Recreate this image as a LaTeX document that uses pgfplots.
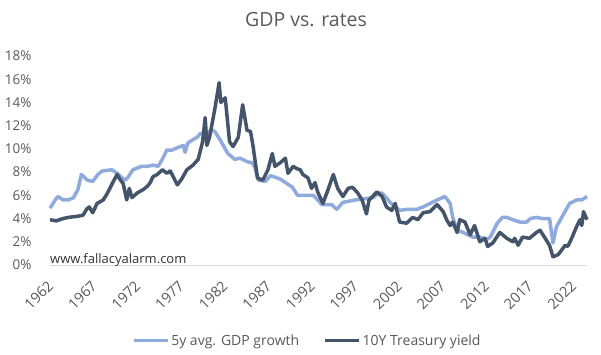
\documentclass[border=0pt]{standalone}
\usepackage{pgfplots}
\pgfplotsset{compat=1.18}
\usepackage{fontspec}
\setmainfont{Open Sans}
\definecolor{gdpc}{HTML}{8FAADC}
\definecolor{tsyc}{HTML}{44546A}
\definecolor{txt}{HTML}{595959}
\begin{document}
\begin{tikzpicture}
\useasboundingbox (-50pt,-90pt) rectangle (551pt,265pt);
\begin{axis}[
  scale only axis, width=537pt, height=209pt,
  xmin=1962, xmax=2023.6, ymin=0, ymax=18,
  axis x line*=bottom, axis y line*=left,
  y axis line style={draw=none},
  x axis line style={draw=black!15, line width=0.8pt},
  tick style={draw=none},
  xtick={1962,1967,...,2022},
  ytick={0,2,...,18},
  xticklabel style={yshift=-16pt, xshift=3pt, rotate=45, anchor=east, font=\fontsize{14.5}{16}\selectfont, text=txt},
  yticklabel style={font=\fontsize{13.5}{15}\selectfont, text=txt, xshift=-15pt},
  yticklabel={\pgfmathprintnumber{\tick}\%},
  xticklabel={\pgfmathprintnumber[int detect, 1000 sep={}]{\tick}},
  /pgf/number format/assume math mode=true,
  legend columns=2,
  legend style={draw=none, at={(axis cs:1991.5,-6.5)}, anchor=center, font=\fontsize{14}{16}\selectfont, text=txt,
    /tikz/every even column/.append style={column sep=22pt}},
  legend image code/.code={\draw[#1, line width=3.5pt] (0pt,0pt) -- (34pt,0pt);},
  clip=false,
]
\addplot[gdpc, line width=3.5pt, line join=round] coordinates {
(1962.0,4.9)(1962.6,5.6)(1962.9,5.9)(1963.5,5.6)(1964.1,5.6)(1964.7,5.8)(1965.2,6.5)(1965.6,7.8)
(1966.3,7.3)(1966.9,7.2)(1967.5,7.8)(1968.0,8.1)(1969.1,8.2)(1969.7,7.9)(1970.6,7.3)(1970.9,7.5)
(1971.5,8.2)(1972.5,8.5)(1973.2,8.5)(1973.8,8.6)(1974.4,8.5)(1974.8,9.0)(1975.4,9.9)(1976.0,9.9)
(1976.6,10.1)(1977.3,10.3)(1977.5,9.7)(1977.8,10.5)(1978.4,10.8)(1978.9,11.0)(1979.2,11.3)(1980.0,11.4)
(1980.6,11.6)(1980.9,11.5)(1981.5,10.8)(1982.4,9.6)(1983.2,9.1)(1983.8,9.2)(1984.6,8.9)(1985.2,8.8)
(1985.5,8.4)(1985.9,7.3)(1986.7,7.2)(1987.3,7.7)(1988.4,7.4)(1989.0,7.1)(1989.8,6.7)(1990.4,6.0)
(1992.2,6.0)(1993.2,5.2)(1994.3,5.2)(1994.9,4.8)(1995.6,5.4)(1997.0,5.6)(1998.1,5.7)(1999.0,5.8)
(1999.8,6.2)(2000.1,6.2)(2000.7,5.7)(2001.0,5.4)(2002.1,4.7)(2003.0,4.8)(2004.1,4.8)(2004.8,5.0)
(2005.6,5.3)(2006.4,5.6)(2007.3,5.9)(2007.9,5.3)(2008.2,4.1)(2008.7,3.0)(2009.4,2.8)(2010.5,2.4)
(2011.3,2.4)(2012.1,2.2)(2012.5,2.4)(2013.3,3.6)(2013.9,4.1)(2014.4,4.1)(2015.1,3.9)(2015.9,3.7)
(2016.7,3.7)(2017.1,4.0)(2017.8,4.1)(2018.5,4.0)(2019.3,4.0)(2019.7,1.9)(2020.1,3.3)(2020.7,4.1)
(2021.6,5.3)(2022.4,5.6)(2023.0,5.6)(2023.6,5.9)
};
\addlegendentry{5y avg. GDP growth}
\addplot[tsyc, line width=3.5pt, line join=round] coordinates {
(1962.0,3.9)(1962.7,3.8)(1963.5,4.0)(1964.1,4.1)(1965.2,4.2)(1965.8,4.3)(1966.2,4.8)(1966.5,5.0)
(1966.9,4.5)(1967.4,5.3)(1968.1,5.6)(1968.6,6.2)(1969.2,7.1)(1969.7,7.8)(1970.0,7.4)(1970.4,7.0)
(1970.8,5.6)(1971.1,6.6)(1971.4,5.8)(1972.0,6.2)(1972.7,6.5)(1973.2,6.8)(1973.5,7.1)(1973.8,7.6)
(1974.3,7.8)(1974.9,8.2)(1975.4,7.9)(1975.8,8.1)(1976.0,7.8)(1976.6,6.9)(1977.1,7.4)(1977.7,8.2)
(1978.4,8.6)(1979.0,9.1)(1979.5,10.6)(1979.8,12.7)(1980.0,10.3)(1980.3,11.0)(1980.9,13.4)(1981.4,15.7)
(1981.6,14.0)(1982.1,14.4)(1982.6,10.6)(1983.0,10.2)(1983.6,11.0)(1984.1,13.8)(1984.6,11.6)(1985.0,11.5)
(1985.3,10.2)(1985.8,7.5)(1986.4,7.3)(1987.0,8.2)(1987.5,9.6)(1987.8,8.5)(1988.4,8.8)(1989.0,9.2)
(1989.3,7.9)(1989.9,8.5)(1990.3,8.3)(1990.7,8.2)(1991.0,7.8)(1991.6,7.5)(1992.0,6.6)(1992.4,7.1)
(1992.7,6.3)(1993.3,5.3)(1993.9,6.5)(1994.5,7.8)(1995.0,6.6)(1995.6,5.9)(1996.2,6.6)(1996.7,6.7)
(1997.3,6.2)(1997.8,5.6)(1998.3,4.4)(1998.6,5.6)(1999.0,5.9)(1999.5,6.3)(2000.1,5.9)(2000.6,5.0)
(2001.2,4.7)(2001.6,5.3)(2002.1,3.7)(2002.9,3.6)(2003.6,4.1)(2004.2,3.9)(2004.8,4.5)(2005.6,4.6)
(2006.4,5.2)(2007.1,4.6)(2007.5,3.9)(2007.9,3.4)(2008.2,3.7)(2008.7,2.8)(2009.0,3.9)(2009.6,3.7)
(2010.2,2.6)(2010.7,3.4)(2011.3,2.0)(2011.9,2.3)(2012.2,1.6)(2012.8,1.9)(2013.6,2.8)(2014.4,2.3)
(2015.1,2.0)(2015.3,2.3)(2015.7,1.7)(2016.2,2.4)(2017.0,2.3)(2017.8,2.8)(2018.2,3.0)(2018.8,2.3)
(2019.3,1.7)(2019.7,0.7)(2020.3,0.9)(2020.7,1.3)(2021.1,1.7)(2021.4,1.6)(2021.9,2.4)(2022.4,3.3)
(2022.8,3.9)(2023.0,3.4)(2023.2,4.6)(2023.6,3.9)
};
\addlegendentry{10Y Treasury yield}
\node[anchor=base west, inner sep=0pt, font=\fontsize{13}{15}\selectfont, text=black!80] at (axis cs:1962,0.15) {www.fallacyalarm.com};
\end{axis}
\node[font=\fontsize{19.5}{22}\selectfont, text=txt] at (256pt,245pt) {GDP vs. rates};
\end{tikzpicture}
\end{document}
